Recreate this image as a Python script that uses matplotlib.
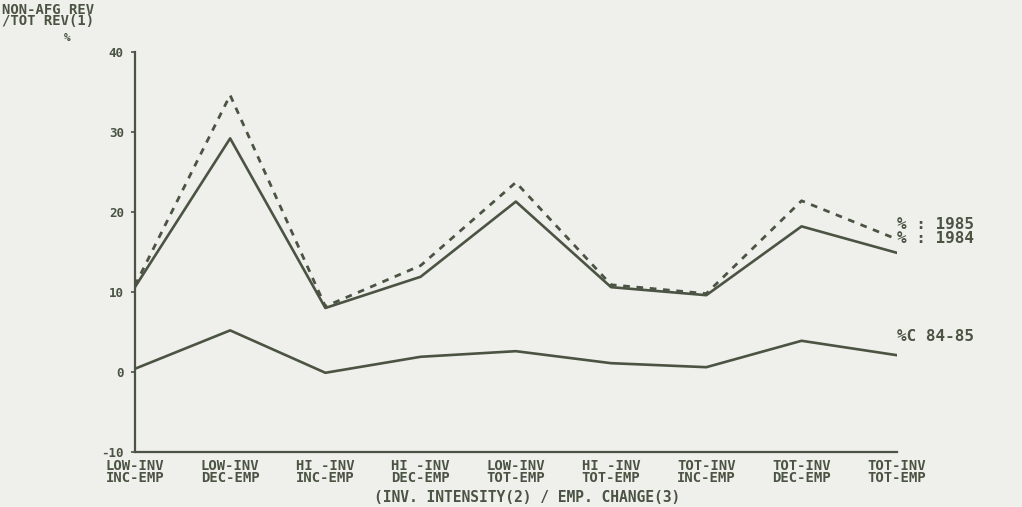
import numpy as np
import matplotlib.pyplot as plt

# share of non-farm revenue in total revenue, by investment / employment group
categories = ["LOW-INV\nINC-EMP", "LOW-INV\nDEC-EMP", "HI -INV\nINC-EMP",
              "HI -INV\nDEC-EMP", "LOW-INV\nTOT-EMP", "HI -INV\nTOT-EMP",
              "TOT-INV\nINC-EMP", "TOT-INV\nDEC-EMP", "TOT-INV\nTOT-EMP"]
pct_1985 = [10.8, 34.6, 8.2, 13.3, 23.7, 10.9, 9.8, 21.4, 16.6]
pct_1984 = [10.6, 29.2, 8.0, 11.9, 21.3, 10.6, 9.6, 18.2, 14.9]
pct_change = [0.4, 5.2, -0.1, 1.9, 2.6, 1.1, 0.6, 3.9, 2.1]
yticks = [-10, 0, 10, 20, 30, 40]

ink = "#4b5443"
bg = "#efefec"
mono = {"family": "DejaVu Sans Mono", "weight": "bold", "color": ink}

fig = plt.figure(figsize=(10.22, 5.07), dpi=100, facecolor=bg)
ax = fig.add_axes([0.132, 0.1085, 0.7455, 0.789])
ax.set_facecolor(bg)

x = np.arange(len(categories))
ax.plot(x, pct_1985, color=ink, lw=2.0, dashes=(2.4, 2.4))
ax.plot(x, pct_1984, color=ink, lw=1.9)
ax.plot(x, pct_change, color=ink, lw=1.9)

ax.set_xlim(0, len(categories) - 1)
ax.set_ylim(-10, 40)
ax.set_yticks(yticks)
ax.set_yticklabels([str(v) for v in yticks], fontdict=dict(mono, size=9))
ax.set_xticks(x)
ax.set_xticklabels(categories, fontdict=dict(mono, size=10), linespacing=0.85)
ax.tick_params(axis="y", length=3, width=1.2, color=ink, pad=5)
ax.tick_params(axis="x", length=0, pad=5)

for side in ["top", "right"]:
    ax.spines[side].set_visible(False)
for side in ["left", "bottom"]:
    ax.spines[side].set_color(ink)
    ax.spines[side].set_linewidth(1.6)

ax.set_xlabel("(INV. INTENSITY(2) / EMP. CHANGE(3)", fontdict=dict(mono, size=10.5))
ax.xaxis.set_label_coords(0.515, -0.095)

# series labels at the right end of the lines
lbl = dict(mono, size=11.5)
ax.text(8.0, 18.4, "% : 1985", fontdict=lbl, va="center", ha="left")
ax.text(8.0, 16.7, "% : 1984", fontdict=lbl, va="center", ha="left")
ax.text(8.0, 4.4, "%C 84-85", fontdict=lbl, va="center", ha="left")

# y-axis title above the axis
fig.text(0.002, 0.995, "NON-AFG REV\n/TOT REV(1)", fontdict=dict(mono, size=10),
         va="top", ha="left", linespacing=0.8)
fig.text(0.066, 0.925, "%", fontdict=dict(mono, size=8), va="center", ha="center")

fig.savefig("out.png", dpi=100, facecolor=bg)
